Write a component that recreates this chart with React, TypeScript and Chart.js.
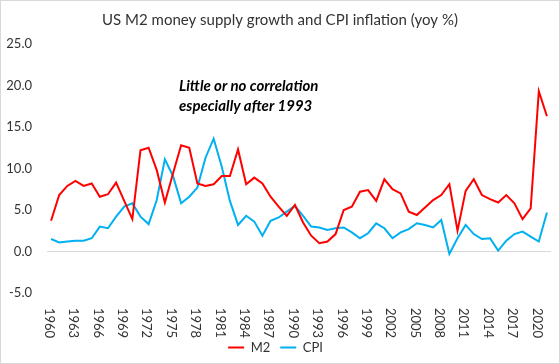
import React, { useEffect, useRef } from "react";
import { Chart, registerables } from "chart.js";

Chart.register(...registerables);

const FONT = "Lato, 'Open Sans', sans-serif";

const titleText = "US M2 money supply growth and CPI inflation (yoy %)";
const noteLines = ["Little or no correlation", "especially after 1993"];

const years = [
  "1960", "1961", "1962", "1963", "1964", "1965", "1966", "1967", "1968", "1969",
  "1970", "1971", "1972", "1973", "1974", "1975", "1976", "1977", "1978", "1979",
  "1980", "1981", "1982", "1983", "1984", "1985", "1986", "1987", "1988", "1989",
  "1990", "1991", "1992", "1993", "1994", "1995", "1996", "1997", "1998", "1999",
  "2000", "2001", "2002", "2003", "2004", "2005", "2006", "2007", "2008", "2009",
  "2010", "2011", "2012", "2013", "2014", "2015", "2016", "2017", "2018", "2019",
  "2020", "2021",
];

const m2 = [
  3.7, 6.8, 7.9, 8.5, 7.9, 8.2, 6.6, 6.9, 8.3, 6.1,
  3.9, 12.2, 12.5, 9.8, 5.9, 9.4, 12.8, 12.5, 8.2, 7.9,
  8.1, 9.1, 9.1, 12.3, 8.1, 8.9, 8.2, 6.6, 5.4, 4.3,
  5.6, 3.5, 1.9, 1.0, 1.2, 2.1, 5.0, 5.4, 7.2, 7.4,
  6.1, 8.7, 7.5, 7.0, 4.8, 4.4, 5.3, 6.2, 6.8, 8.1,
  2.5, 7.3, 8.7, 6.8, 6.3, 5.9, 6.8, 5.8, 3.9, 5.2,
  19.3, 16.3,
];

const cpi = [
  1.5, 1.1, 1.2, 1.3, 1.3, 1.6, 3.0, 2.8, 4.2, 5.4,
  5.8, 4.2, 3.3, 6.2, 11.1, 9.1, 5.8, 6.6, 7.7, 11.3,
  13.6, 10.2, 6.1, 3.2, 4.3, 3.6, 1.9, 3.7, 4.1, 4.8,
  5.5, 4.3, 3.0, 2.9, 2.6, 2.8, 2.9, 2.3, 1.6, 2.2,
  3.4, 2.8, 1.6, 2.3, 2.7, 3.4, 3.2, 2.9, 3.8, -0.3,
  1.6, 3.2, 2.1, 1.5, 1.6, 0.1, 1.3, 2.1, 2.4, 1.8,
  1.2, 4.7,
];

const xTickLabels = [
  "1960", "1963", "1966", "1969", "1972", "1975", "1978", "1981", "1984", "1987", "1990",
  "1993", "1996", "1999", "2002", "2005", "2008", "2011", "2014", "2017", "2020",
];

const yMin = -5;
const yMax = 25;
const yStep = 5;

const decorPlugin = {
  id: "decor",
  afterDraw(chart: any) {
    const ctx = chart.ctx;
    const xs = chart.scales.x;
    ctx.save();
    ctx.fillStyle = "#333333";
    // rotated x labels (clockwise)
    ctx.font = `13px ${FONT}`;
    ctx.textAlign = "left";
    ctx.textBaseline = "middle";
    xTickLabels.forEach((lbl) => {
      const idx = years.indexOf(lbl);
      const px = xs.getPixelForValue(idx);
      ctx.save();
      ctx.translate(px - 2, chart.chartArea.bottom + 15);
      ctx.rotate(Math.PI / 2);
      ctx.fillText(lbl, 0, 0);
      ctx.restore();
    });
    // title
    ctx.font = `15px ${FONT}`;
    ctx.textAlign = "center";
    ctx.fillText(titleText, 280, 20);
    // annotation
    ctx.font = `italic bold 15px ${FONT}`;
    ctx.textAlign = "left";
    ctx.fillStyle = "#000000";
    ctx.fillText(noteLines[0], 179, 86);
    ctx.fillText(noteLines[1], 179, 106);
    // border
    ctx.strokeStyle = "#d9d9d9";
    ctx.lineWidth = 1;
    ctx.strokeRect(0.5, 0.5, chart.width - 1, chart.height - 1);
    ctx.restore();
  },
};

export default function App() {
  const canvasRef = useRef<HTMLCanvasElement | null>(null);

  useEffect(() => {
    document.body.style.margin = "0";
    const canvas = canvasRef.current;
    if (!canvas) return;
    const chart = new Chart(canvas, {
      type: "line",
      data: {
        labels: years,
        datasets: [
          {
            label: "M2",
            data: m2,
            borderColor: "#FF0000",
            backgroundColor: "#FF0000",
            borderWidth: 2,
            pointRadius: 0,
            tension: 0,
          },
          {
            label: "CPI",
            data: cpi,
            borderColor: "#00B0F0",
            backgroundColor: "#00B0F0",
            borderWidth: 2,
            pointRadius: 0,
            tension: 0,
          },
        ],
      },
      options: {
        responsive: false,
        animation: false,
        devicePixelRatio: 1,
        layout: { padding: { top: 44, right: 9, left: 0, bottom: 0 } },
        plugins: {
          title: { display: false },
          tooltip: { enabled: false },
          legend: {
            position: "bottom",
            labels: {
              usePointStyle: true,
              pointStyle: "line",
              pointStyleWidth: 16,
              padding: 10,
              color: "#333333",
              font: { family: FONT, size: 13 },
            },
          },
        },
        scales: {
          x: {
            type: "category",
            offset: true,
            grid: { display: false },
            border: { display: false },
            ticks: { display: false },
            afterFit: (scale: any) => {
              scale.height = 38;
            },
          },
          y: {
            min: yMin,
            max: yMax,
            border: { display: false },
            grid: {
              drawTicks: false,
              color: (c: any) => (c.tick && c.tick.value === 0 ? "#d9d9d9" : "rgba(0,0,0,0)"),
              lineWidth: 1,
            },
            ticks: {
              stepSize: yStep,
              padding: 15,
              color: "#333333",
              font: { family: FONT, size: 13 },
              callback: (v: any) => Number(v).toFixed(1),
            },
            afterFit: (scale: any) => {
              scale.width = 47;
            },
          },
        },
      },
      plugins: [decorPlugin],
    });
    return () => chart.destroy();
  }, []);

  return (
    <div style={{ width: 560, height: 364, position: "relative", background: "#fff" }}>
      <canvas ref={canvasRef} width={560} height={364} style={{ display: "block" }} />
    </div>
  );
}
